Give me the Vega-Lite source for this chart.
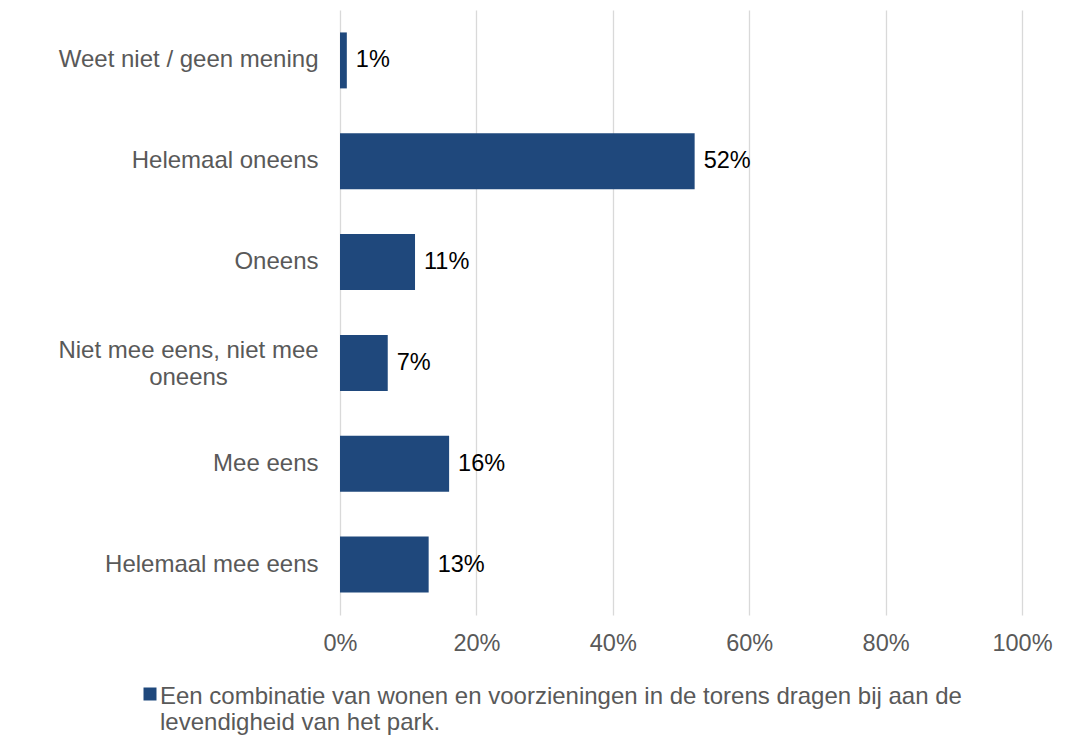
{
  "$schema": "https://vega.github.io/schema/vega-lite/v6.json",
  "width": 682,
  "height": 605,
  "autosize": {"type": "none"},
  "padding": {"left": 340, "top": 10, "right": 52, "bottom": 137},
  "background": "white",
  "config": {
    "view": {"stroke": null},
    "font": "Liberation Sans"
  },
  "data": {
    "values": [
      {"categorie": "Weet niet / geen mening", "aandeel": 0.01, "reeks": "Een combinatie van wonen en voorzieningen in de torens dragen bij aan de levendigheid van het park."},
      {"categorie": "Helemaal oneens", "aandeel": 0.52, "reeks": "Een combinatie van wonen en voorzieningen in de torens dragen bij aan de levendigheid van het park."},
      {"categorie": "Oneens", "aandeel": 0.11, "reeks": "Een combinatie van wonen en voorzieningen in de torens dragen bij aan de levendigheid van het park."},
      {"categorie": "Niet mee eens, niet mee oneens", "aandeel": 0.07, "reeks": "Een combinatie van wonen en voorzieningen in de torens dragen bij aan de levendigheid van het park."},
      {"categorie": "Mee eens", "aandeel": 0.16, "reeks": "Een combinatie van wonen en voorzieningen in de torens dragen bij aan de levendigheid van het park."},
      {"categorie": "Helemaal mee eens", "aandeel": 0.13, "reeks": "Een combinatie van wonen en voorzieningen in de torens dragen bij aan de levendigheid van het park."}
    ]
  },
  "encoding": {
    "y": {
      "field": "categorie",
      "type": "nominal",
      "sort": null,
      "scale": {"paddingInner": 0.445, "paddingOuter": 0.2225},
      "axis": {
        "title": null,
        "domain": false,
        "ticks": false,
        "labelFont": "Liberation Sans",
        "labelFontSize": 24,
        "labelColor": "#595959",
        "labelLimit": 400,
        "labelLineHeight": 27,
        "labelPadding": {"condition": {"test": "datum.value == 'Niet mee eens, niet mee oneens'", "value": 152}, "value": 22},
        "labelAlign": {"condition": {"test": "datum.value == 'Niet mee eens, niet mee oneens'", "value": "center"}, "value": "right"},
        "labelOffset": {"condition": {"test": "datum.value == 'Niet mee eens, niet mee oneens'", "value": -12}, "value": 0},
        "labelExpr": "datum.value == 'Niet mee eens, niet mee oneens' ? ['Niet mee eens, niet mee', 'oneens'] : datum.value"
      }
    },
    "x": {
      "field": "aandeel",
      "type": "quantitative",
      "scale": {"domain": [0, 1], "nice": false},
      "axis": {
        "title": null,
        "format": ".0%",
        "values": [0, 0.2, 0.4, 0.6, 0.8, 1],
        "domain": false,
        "ticks": false,
        "grid": true,
        "gridColor": "#d9d9d9",
        "gridWidth": 1.3,
        "labelFlush": false,
        "labelFont": "Liberation Sans",
        "labelFontSize": 23.5,
        "labelColor": "#595959",
        "labelPadding": 16
      }
    }
  },
  "layer": [
    {
      "mark": {"type": "bar"},
      "encoding": {
        "color": {
          "field": "reeks",
          "type": "nominal",
          "scale": {"range": ["#1f487c"]},
          "legend": {
            "title": null,
            "orient": "none",
            "legendX": -202,
            "legendY": 672,
            "padding": 0,
            "symbolType": "square",
            "symbolSize": 169,
            "symbolStrokeWidth": 0,
            "labelFont": "Liberation Sans",
            "labelFontSize": 24,
            "labelColor": "#595959",
            "labelLimit": 1000,
            "labelOffset": -2,
            "labelLineHeight": 29,
            "labelBaseline": "top",
            "labelExpr": "[substring(datum.label, 0, indexof(datum.label, 'levendigheid') - 1), substring(datum.label, indexof(datum.label, 'levendigheid'))]",
            "encode": {"labels": {"update": {"dy": {"value": -9}}}}
          }
        }
      }
    },
    {
      "mark": {"type": "text", "align": "left", "baseline": "middle", "dx": 9, "fontSize": 23.5, "font": "Liberation Sans", "color": "#000000"},
      "encoding": {
        "text": {"field": "aandeel", "type": "quantitative", "format": ".0%"}
      }
    }
  ]
}
